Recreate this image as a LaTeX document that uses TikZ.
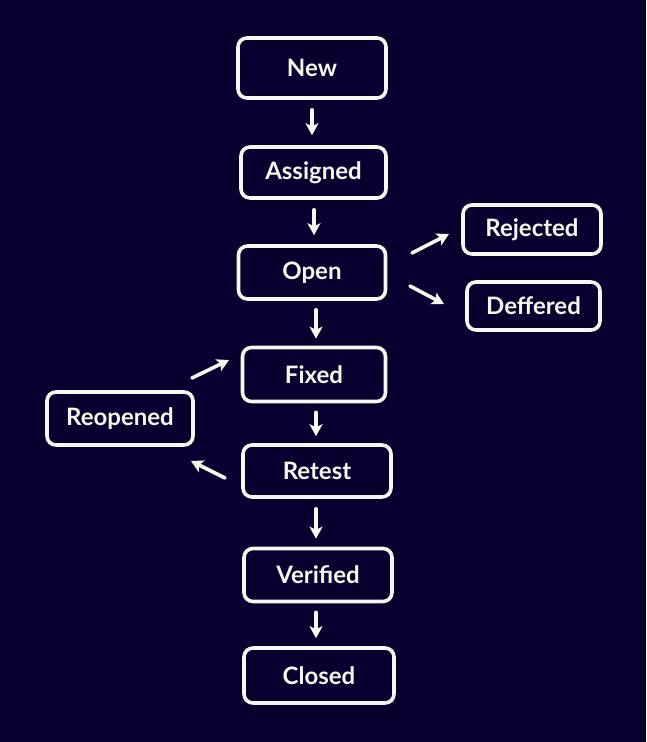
\documentclass[tikz,border=0pt]{standalone}
\usepackage{fontspec}
\setmainfont{Lato}
\usetikzlibrary{arrows.meta}
\definecolor{bgc}{HTML}{0A0030}
\definecolor{fgc}{HTML}{F8F5EC}
\begin{document}
\begin{tikzpicture}[x=1pt,y=-1pt,
  state/.style={draw=fgc,line width=3.6pt,rounded corners=9pt,fill=bgc,text=fgc,
    font=\fontsize{24}{28}\selectfont\bfseries,inner sep=0pt,align=center},
  arr/.style={draw=fgc,line width=3.6pt,line cap=round,-{Stealth[length=12pt,width=13pt,inset=3pt]}}]
\fill[bgc] (0,0) rectangle (646,742);
\useasboundingbox (0,0) rectangle (646,742);
\node[state,minimum width=148pt,minimum height=60pt] (new) at (312,68) {New};
\node[state,minimum width=145pt,minimum height=51pt] (asg) at (313.5,172.5) {Assigned};
\node[state,minimum width=147pt,minimum height=53pt] (open) at (312,272.5) {Open};
\node[state,minimum width=138pt,minimum height=49pt] (rej) at (532,229.5) {Rejected};
\node[state,minimum width=133pt,minimum height=48pt] (def) at (533.5,306) {Deffered};
\node[state,minimum width=143pt,minimum height=54pt] (fix) at (314,374.5) {Fixed};
\node[state,minimum width=146pt,minimum height=53pt] (reo) at (120,418.5) {Reopened};
\node[state,minimum width=148pt,minimum height=52pt] (ret) at (317,471) {Retest};
\node[state,minimum width=148pt,minimum height=53pt] (ver) at (318,575) {Verified};
\node[state,minimum width=150pt,minimum height=55pt] (clo) at (319,675.5) {Closed};
\draw[arr,shorten <=10pt,shorten >=10pt] (new.south -| 312,0) -- (asg.north -| 312,0);
\draw[arr,shorten <=10pt,shorten >=9pt] (asg.south -| 314,0) -- (open.north -| 314,0);
\draw[arr,shorten <=9pt,shorten >=7pt] (open.south -| 316,0) -- (fix.north -| 316,0);
\draw[arr,shorten <=9pt,shorten >=7pt] (fix.south -| 316,0) -- (ret.north -| 316,0);
\draw[arr,shorten <=10pt,shorten >=8pt] (ret.south -| 316,0) -- (ver.north -| 316,0);
\draw[arr,shorten <=9pt,shorten >=8pt] (ver.south -| 316,0) -- (clo.north -| 316,0);
\coordinate (o1) at (412,253); \coordinate (r1) at (449,234);
\coordinate (o2) at (410,286); \coordinate (d1) at (444,304);
\coordinate (e1) at (192,378); \coordinate (f1) at (229,360);
\coordinate (t1) at (225,478); \coordinate (e2) at (191,461);
\draw[arr] (o1) -- (r1);
\draw[arr] (o2) -- (d1);
\draw[arr] (e1) -- (f1);
\draw[arr] (t1) -- (e2);
\end{tikzpicture}
\end{document}
